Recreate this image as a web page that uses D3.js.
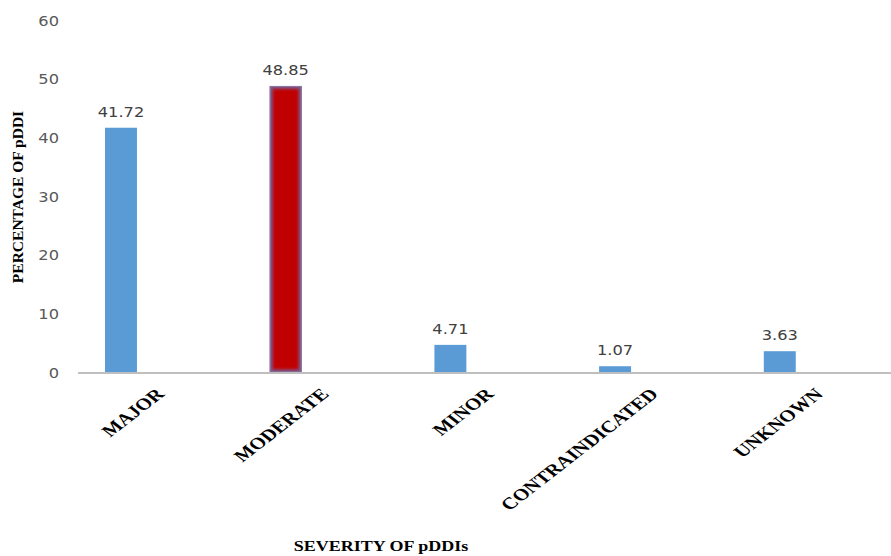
<!DOCTYPE html>
<html>
<head>
<meta charset="utf-8">
<script src="https://cdn.jsdelivr.net/npm/d3@7"></script>
<style>
  html, body { margin: 0; padding: 0; background: #fff; }
  svg { display: block; }
</style>
</head>
<body>
<svg id="chart" width="891" height="556"></svg>
<script>
// Severity of potential drug-drug interactions (percent of all pDDIs)
const categories = ["MAJOR", "MODERATE", "MINOR", "CONTRAINDICATED", "UNKNOWN"];
const percentages = [41.72, 48.85, 4.71, 1.07, 3.63];
const highlighted = ["MODERATE"];
const yTicks = [0, 10, 20, 30, 40, 50, 60];
const yTitle = "PERCENTAGE OF pDDI";
const xTitle = "SEVERITY OF pDDIs";

const svg = d3.select("#chart");
const W = 891, H = 556;
const plotLeft = 78, plotRight = 901.5, plotTop = 20.5, plotBottom = 372.5;

const x = d3.scaleBand().domain(categories).range([plotLeft, plotRight]).paddingInner(0).paddingOuter(0);
const y = d3.scaleLinear().domain([0, 60]).range([plotBottom, plotTop]);

const barOffset = x.bandwidth() * 0.164;
const barWidth = x.bandwidth() * 0.194;

const defs = svg.append("defs");
defs.append("filter").attr("id", "edgeBlur")
  .attr("x", "-20%").attr("y", "-20%").attr("width", "140%").attr("height", "140%")
  .append("feGaussianBlur").attr("stdDeviation", 1.8);

const stretch = 1.12; // wide rendering of the numeric labels
const numFont = "'DejaVu Sans', Verdana, sans-serif";
const serif = "'Liberation Serif', 'Times New Roman', serif";

// y tick labels (no axis line, no gridlines)
svg.append("g").selectAll("text").data(yTicks).join("text")
  .attr("transform", d => `translate(59, ${y(d) + 5}) scale(${stretch},1)`)
  .attr("text-anchor", "end")
  .attr("font-family", numFont).attr("font-size", 14.5)
  .attr("fill", "#595959")
  .text(d => d);

// bars
const bars = svg.append("g");
categories.forEach((c, i) => {
  const v = percentages[i];
  const bx = x(c) + barOffset, by = y(v), bh = y(0) - y(v);
  if (highlighted.includes(c)) {
    const id = "clip" + i;
    defs.append("clipPath").attr("id", id)
      .append("rect").attr("x", bx).attr("y", by).attr("width", barWidth).attr("height", bh);
    const g = bars.append("g").attr("clip-path", `url(#${id})`);
    g.append("rect").attr("x", bx).attr("y", by).attr("width", barWidth).attr("height", bh)
      .attr("fill", "#C00000");
    g.append("rect").attr("x", bx).attr("y", by).attr("width", barWidth).attr("height", bh)
      .attr("fill", "none").attr("stroke", "#7d5a8e").attr("stroke-width", 6)
      .attr("filter", "url(#edgeBlur)");
    bars.append("rect").attr("x", bx + 0.5).attr("y", by + 0.5).attr("width", barWidth - 1).attr("height", bh - 1)
      .attr("fill", "none").attr("stroke", "#8c7aa6").attr("stroke-width", 1);
  } else {
    bars.append("rect").attr("x", bx).attr("y", by).attr("width", barWidth).attr("height", bh)
      .attr("fill", "#5B9BD5");
  }
});

// category axis line
svg.append("line")
  .attr("x1", plotLeft).attr("x2", W)
  .attr("y1", plotBottom + 0.5).attr("y2", plotBottom + 0.5)
  .attr("stroke", "#BFBFBF").attr("stroke-width", 2);

// value labels above bars
svg.append("g").selectAll("text").data(categories).join("text")
  .attr("transform", (c, i) => `translate(${x(c) + barOffset + barWidth / 2}, ${y(percentages[i]) - 11}) scale(${stretch},1)`)
  .attr("text-anchor", "middle")
  .attr("font-family", numFont).attr("font-size", 14.5)
  .attr("fill", "#404040")
  .text((c, i) => percentages[i].toFixed(2));

// rotated category labels
svg.append("g").selectAll("text").data(categories).join("text")
  .attr("transform", c => `translate(${x(c) + x.bandwidth() / 2 + 5}, 395) scale(1.29,1) rotate(-45)`)
  .attr("text-anchor", "end")
  .attr("font-family", serif).attr("font-weight", "bold").attr("font-size", 16.5)
  .attr("fill", "#000")
  .text(c => c);

// axis titles
svg.append("text")
  .attr("transform", `translate(23, 197) rotate(-90)`)
  .attr("text-anchor", "middle")
  .attr("font-family", serif).attr("font-weight", "bold").attr("font-size", 15.5)
  .attr("fill", "#000")
  .text(yTitle);

svg.append("text")
  .attr("transform", `translate(381, 551) scale(1.16,1)`)
  .attr("text-anchor", "middle")
  .attr("font-family", serif).attr("font-weight", "bold").attr("font-size", 15.5)
  .attr("fill", "#000")
  .text(xTitle);
</script>
</body>
</html>
